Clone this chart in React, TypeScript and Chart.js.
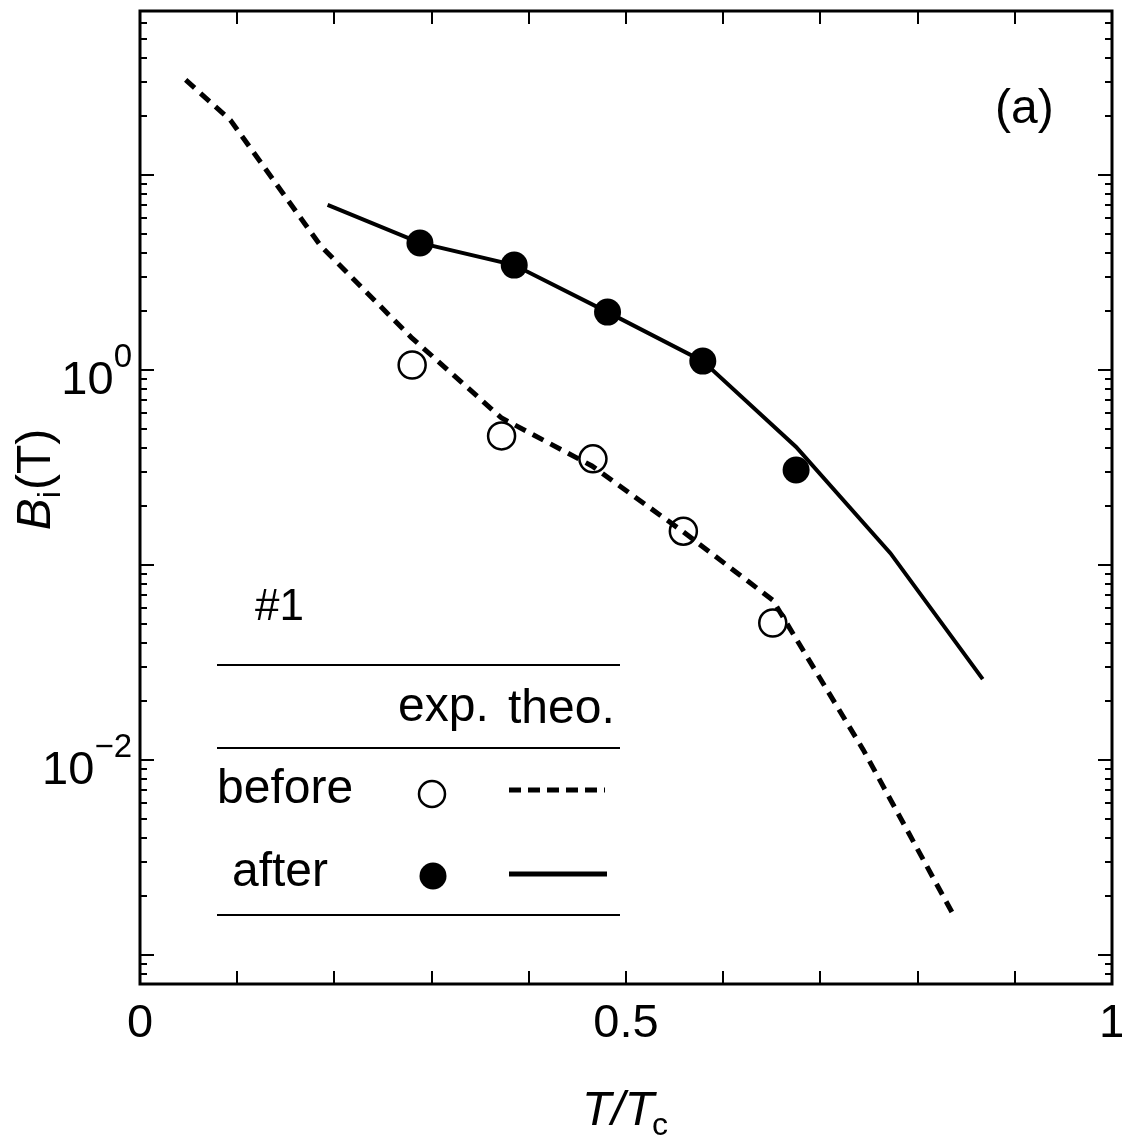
import React, { useEffect, useRef } from 'react';
import { Chart, registerables } from 'chart.js';

Chart.register(...registerables);

// ---- data ----
const X_EXP_BEFORE = [0.28, 0.372, 0.466, 0.559, 0.651];
const Y_EXP_BEFORE = [1.06, 0.459, 0.35, 0.149, 0.0504];
const X_EXP_AFTER = [0.288, 0.385, 0.481, 0.579, 0.675];
const Y_EXP_AFTER = [4.48, 3.45, 1.98, 1.11, 0.307];
const X_THEO_BEFORE = [0.047, 0.093, 0.186, 0.279, 0.372, 0.465, 0.558, 0.651, 0.744, 0.837];
const Y_THEO_BEFORE = [30.7, 19.1, 4.32, 1.47, 0.567, 0.322, 0.149, 0.066, 0.0113, 0.0016];
const X_THEO_AFTER = [0.193, 0.288, 0.385, 0.481, 0.579, 0.675, 0.772, 0.867];
const Y_THEO_AFTER = [7.02, 4.48, 3.45, 1.98, 1.11, 0.403, 0.115, 0.026];

const X_MIN = 0;
const X_MAX = 1;
const Y_MIN = 7.1e-4;
const Y_MAX = 69.3;

const X_TICK_VALUES = [0, 0.1, 0.2, 0.3, 0.4, 0.5, 0.6, 0.7, 0.8, 0.9, 1];
const X_LABEL_VALUES = [0, 0.5, 1];
const X_LABEL_TEXT = ['0', '0.5', '1'];
const Y_DECADES = [-4, -3, -2, -1, 0, 1, 2];
const Y_LABEL_VALUES = [1, 0.01];
const Y_LABEL_EXP = ['0', '\u22122'];

const FONT = '"Liberation Sans", Arial, Helvetica, sans-serif';

const zip = (xs: number[], ys: number[]) => xs.map((x, i) => ({ x, y: ys[i] }));

const framePlugin = {
  id: 'framePlugin',
  afterDatasetsDraw(chart: any) {
    const ctx: CanvasRenderingContext2D = chart.ctx;
    const { left, right, top, bottom } = chart.chartArea;
    const xs = chart.scales.x;
    const ys = chart.scales.y;
    ctx.save();
    ctx.strokeStyle = '#000';
    ctx.fillStyle = '#000';

    // ticks
    ctx.lineWidth = 2;
    ctx.beginPath();
    for (const v of X_TICK_VALUES) {
      const px = Math.round(xs.getPixelForValue(v));
      ctx.moveTo(px, bottom);
      ctx.lineTo(px, bottom - 13);
      ctx.moveTo(px, top);
      ctx.lineTo(px, top + 13);
    }
    for (const d of Y_DECADES) {
      for (let m = 1; m <= 9; m++) {
        const v = m * Math.pow(10, d);
        if (v < Y_MIN || v > Y_MAX) continue;
        const py = Math.round(ys.getPixelForValue(v));
        const len = m === 1 ? 14 : 7;
        ctx.moveTo(left, py);
        ctx.lineTo(left + len, py);
        ctx.moveTo(right, py);
        ctx.lineTo(right - len, py);
      }
    }
    ctx.stroke();

    // frame
    ctx.lineWidth = 3;
    ctx.strokeRect(left, top, right - left, bottom - top);

    // x tick labels
    ctx.font = `47px ${FONT}`;
    ctx.textAlign = 'center';
    ctx.textBaseline = 'alphabetic';
    X_LABEL_VALUES.forEach((v, i) => {
      ctx.fillText(X_LABEL_TEXT[i], xs.getPixelForValue(v), bottom + 53);
    });

    // y tick labels 10^n
    Y_LABEL_VALUES.forEach((v, i) => {
      const py = ys.getPixelForValue(v);
      const base = py + 24;
      ctx.font = `33px ${FONT}`;
      ctx.textAlign = 'right';
      const supRight = left - 8;
      ctx.fillText(Y_LABEL_EXP[i], supRight, base - 27);
      const supW = ctx.measureText(Y_LABEL_EXP[i]).width;
      ctx.font = `47px ${FONT}`;
      ctx.fillText('10', supRight - supW, base);
    });

    // x axis title: T/T_c
    {
      ctx.textAlign = 'left';
      ctx.font = `italic 48px ${FONT}`;
      const w1 = ctx.measureText('T/T').width;
      ctx.font = `32px ${FONT}`;
      const w2 = ctx.measureText('c').width;
      const cx = (left + right) / 2;
      const x0 = cx - (w1 + w2) / 2;
      const base = 1125;
      ctx.font = `italic 48px ${FONT}`;
      ctx.fillText('T/T', x0, base);
      ctx.font = `32px ${FONT}`;
      ctx.fillText('c', x0 + w1 - 2, base + 10);
    }

    // y axis title: B_i (T)
    {
      ctx.save();
      ctx.translate(50, 480);
      ctx.rotate(-Math.PI / 2);
      ctx.textAlign = 'left';
      ctx.font = `italic 48px ${FONT}`;
      const wB = ctx.measureText('B').width;
      ctx.font = `32px ${FONT}`;
      const wi = ctx.measureText('i').width;
      ctx.font = `48px ${FONT}`;
      const wT = ctx.measureText('(T)').width;
      const total = wB + wi + wT;
      let x = -total / 2;
      ctx.font = `italic 48px ${FONT}`;
      ctx.fillText('B', x, 0);
      x += wB;
      ctx.font = `32px ${FONT}`;
      ctx.fillText('i', x, 10);
      x += wi + 1;
      ctx.font = `48px ${FONT}`;
      ctx.fillText('(T)', x, 0);
      ctx.restore();
    }

    // panel label
    ctx.font = `48px ${FONT}`;
    ctx.textAlign = 'left';
    ctx.fillText('(a)', 995, 123);

    // legend table
    ctx.font = `44px ${FONT}`;
    ctx.fillText('#1', 255, 620);
    ctx.lineWidth = 2;
    ctx.beginPath();
    for (const y of [665, 748, 915]) {
      ctx.moveTo(217, y);
      ctx.lineTo(620, y);
    }
    ctx.stroke();
    ctx.font = `48px ${FONT}`;
    ctx.fillText('exp.', 398, 721);
    ctx.fillText('theo.', 508, 723);
    ctx.fillText('before', 217, 803);
    ctx.fillText('after', 232, 886);

    ctx.lineWidth = 2.5;
    ctx.beginPath();
    ctx.arc(432, 794, 13, 0, Math.PI * 2);
    ctx.stroke();
    ctx.beginPath();
    ctx.arc(433, 876, 13.5, 0, Math.PI * 2);
    ctx.fill();

    ctx.lineWidth = 5;
    ctx.setLineDash([12, 7]);
    ctx.beginPath();
    ctx.moveTo(509, 790);
    ctx.lineTo(605, 790);
    ctx.stroke();
    ctx.setLineDash([]);
    ctx.beginPath();
    ctx.moveTo(509, 874);
    ctx.lineTo(607, 874);
    ctx.stroke();

    ctx.restore();
  },
};

export default function App() {
  const ref = useRef<HTMLCanvasElement | null>(null);
  useEffect(() => {
    if (!ref.current) return;
    const chart = new Chart(ref.current, {
      type: 'scatter',
      data: {
        datasets: [
          {
            label: 'after exp.',
            data: zip(X_EXP_AFTER, Y_EXP_AFTER),
            showLine: false,
            pointRadius: 13.5,
            pointBackgroundColor: '#000',
            pointBorderColor: '#000',
            pointBorderWidth: 0,
            order: 1,
          },
          {
            label: 'before theo.',
            data: zip(X_THEO_BEFORE, Y_THEO_BEFORE),
            showLine: true,
            borderColor: '#000',
            borderWidth: 5,
            borderDash: [12, 8],
            pointRadius: 0,
            fill: false,
            order: 2,
          },
          {
            label: 'after theo.',
            data: zip(X_THEO_AFTER, Y_THEO_AFTER),
            showLine: true,
            borderColor: '#000',
            borderWidth: 4,
            pointRadius: 0,
            fill: false,
            order: 3,
          },
          {
            label: 'before exp.',
            data: zip(X_EXP_BEFORE, Y_EXP_BEFORE),
            showLine: false,
            pointRadius: 13.5,
            pointBackgroundColor: 'rgba(255,255,255,0)',
            pointBorderColor: '#000',
            pointBorderWidth: 2.5,
            order: 4,
          },
        ],
      },
      options: {
        animation: false,
        responsive: false,
        devicePixelRatio: 1,
        layout: { autoPadding: false, padding: { left: 140, right: 10, top: 11, bottom: 158 } },
        plugins: { legend: { display: false }, tooltip: { enabled: false } },
        events: [],
        scales: {
          x: { type: 'linear', min: X_MIN, max: X_MAX, display: false },
          y: { type: 'logarithmic', min: Y_MIN, max: Y_MAX, display: false },
        },
      },
      plugins: [framePlugin],
    });
    return () => chart.destroy();
  }, []);
  return (
    <div style={{ position: 'absolute', left: 0, top: 0, width: 1122, height: 1142, background: '#fff' }}>
      <canvas ref={ref} width={1122} height={1142} style={{ display: 'block' }} />
    </div>
  );
}
